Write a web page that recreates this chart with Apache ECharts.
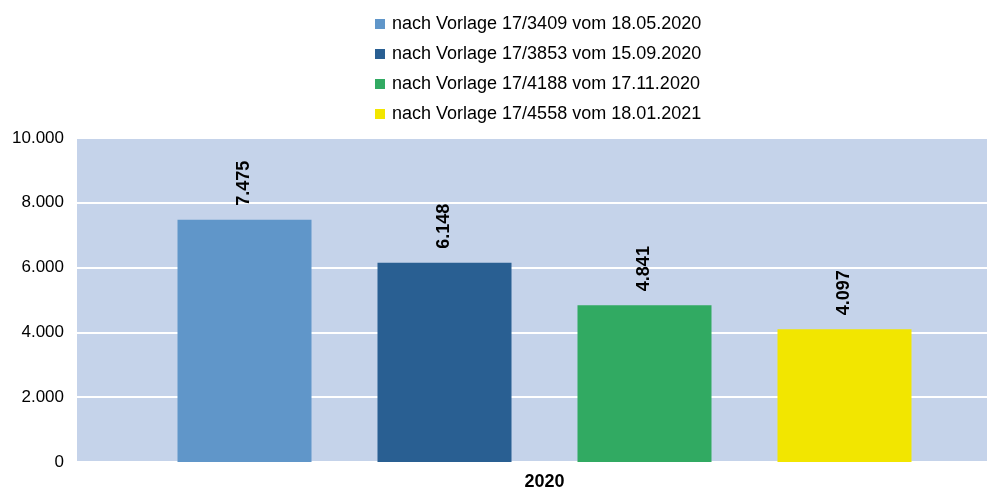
<!DOCTYPE html>
<html>
<head>
<meta charset="utf-8">
<script src="https://cdn.jsdelivr.net/npm/echarts@6/dist/echarts.min.js"></script>
<style>
  html, body { margin: 0; padding: 0; background: #fff; overflow: hidden; }
  #chart { width: 1012px; height: 490px; }
</style>
</head>
<body>
<div id="chart"></div>
<script>
// Kategorien und Werte je Vorlage
const categories = ['2020'];
const seriesNames = [
  'nach Vorlage 17/3409 vom 18.05.2020',
  'nach Vorlage 17/3853 vom 15.09.2020',
  'nach Vorlage 17/4188 vom 17.11.2020',
  'nach Vorlage 17/4558 vom 18.01.2021'
];
const values3409 = [7475];
const values3853 = [6148];
const values4188 = [4841];
const values4558 = [4097];
const seriesValues = [values3409, values3853, values4188, values4558];
const seriesColors = ['#6096c9', '#295f92', '#31aa62', '#f2e600'];
const yTicks = { min: 0, max: 10000, interval: 2000 };

const FONT = '"Liberation Sans", Arial, sans-serif';

// Zahlen mit deutschem Tausendertrennzeichen
function fmt(v) {
  return String(Math.round(v)).replace(/\B(?=(\d{3})+(?!\d))/g, '.');
}

// Die Zeichenfläche reicht rechts etwas über den sichtbaren Rand hinaus
const chart = echarts.init(document.getElementById('chart'), null, { renderer: 'canvas' });

chart.setOption({
  animation: false,
  textStyle: { fontFamily: FONT },
  legend: {
    orient: 'vertical',
    left: 375,
    top: 14,
    padding: 0,
    itemWidth: 10,
    itemHeight: 10,
    itemGap: 10,
    icon: 'rect',
    textStyle: { fontFamily: FONT, fontSize: 18, color: '#000', lineHeight: 20, padding: [0, 0, 0, 2] },
    data: seriesNames
  },
  grid: {
    left: 77,
    right: 0,
    top: 138,
    bottom: 28,
    outerBoundsMode: 'none',
    show: true,
    backgroundColor: '#c5d3ea',
    borderWidth: 0
  },
  xAxis: {
    type: 'category',
    data: categories,
    axisLine: { show: false },
    axisTick: { show: false },
    axisLabel: {
      margin: 11,
      fontFamily: FONT,
      fontSize: 18,
      fontWeight: 'bold',
      color: '#000'
    }
  },
  yAxis: {
    type: 'value',
    min: yTicks.min,
    max: yTicks.max,
    interval: yTicks.interval,
    axisLine: { show: false },
    axisTick: { show: false },
    splitLine: { lineStyle: { color: '#ffffff', width: 2 } },
    axisLabel: {
      margin: 13,
      fontFamily: FONT,
      fontSize: 17,
      color: '#000',
      padding: [5, 0, 0, 0],
      formatter: fmt
    }
  },
  series: seriesNames.map((name, i) => ({
    name: name,
    type: 'bar',
    data: seriesValues[i],
    barWidth: 134,
    barGap: '49.25%',
    itemStyle: { color: seriesColors[i] },
    label: {
      show: true,
      position: 'top',
      rotate: 90,
      align: 'left',
      verticalAlign: 'middle',
      distance: 14,
      fontFamily: FONT,
      fontSize: 18,
      fontWeight: 'bold',
      color: '#000',
      formatter: p => fmt(p.value)
    }
  }))
});
</script>
</body>
</html>
